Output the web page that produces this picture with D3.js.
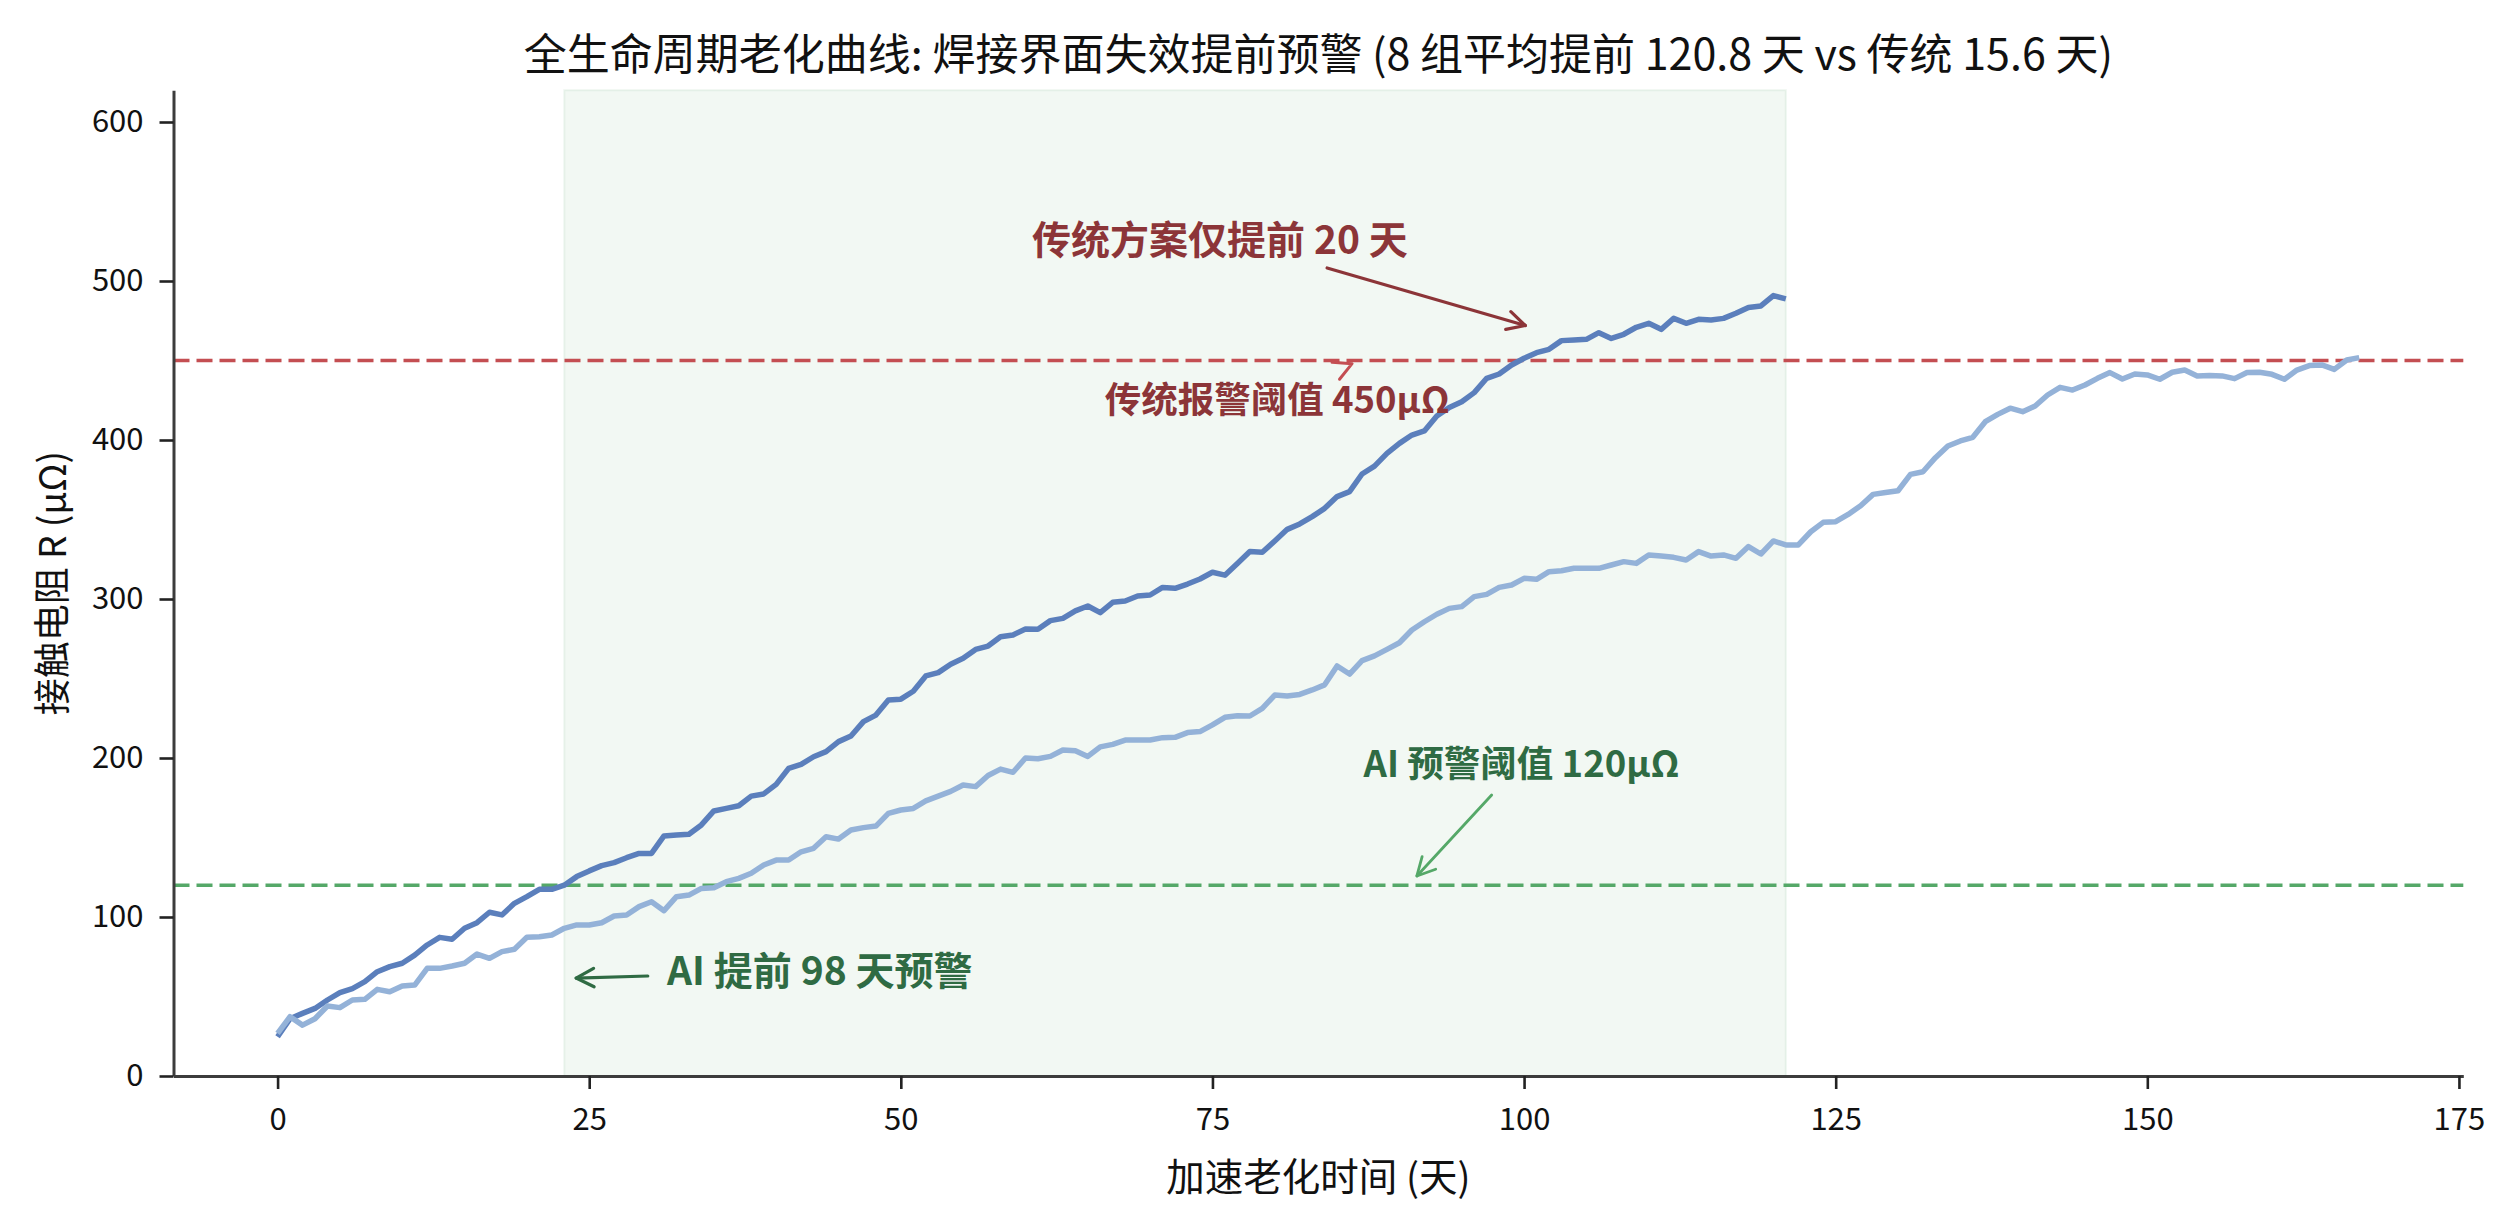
<!DOCTYPE html>
<html>
<head>
<meta charset="utf-8">
<script src="https://cdn.jsdelivr.net/npm/d3@7"></script>
<style>
  body { margin: 0; background: #fff; }
  svg { display: block; font-family: "Noto Sans CJK SC", "Noto Sans", sans-serif; }
</style>
</head>
<body>
<script>
// 数据: 两条老化曲线 (每天一个点, 从第 0 天开始)
const failingCurve = [
  24.7, 36.0, 39.4, 42.5, 47.8, 52.4, 55.0, 59.3, 65.6, 68.8,
  70.9, 76.0, 82.4, 87.2, 86.0, 92.9, 96.4, 103.0, 101.3, 108.6,
  112.8, 117.4, 117.4, 120.0, 125.4, 129.0, 132.3, 134.2, 137.3, 140.0,
  140.0, 151.0, 151.6, 152.0, 157.9, 166.7, 168.3, 170.0, 176.0, 177.4,
  183.4, 193.5, 196.0, 200.8, 204.0, 210.3, 213.8, 222.9, 227.0, 236.5,
  237.0, 242.0, 251.6, 253.7, 259.0, 262.7, 268.3, 270.4, 276.3, 277.4,
  281.1, 281.0, 286.4, 287.8, 292.5, 295.6, 291.4, 297.9, 298.7, 301.9,
  302.5, 307.3, 306.7, 309.4, 312.6, 316.8, 315.0, 322.4, 329.8, 329.4,
  336.5, 343.8, 347.2, 351.8, 357.0, 364.4, 367.5, 378.6, 383.6, 391.6,
  397.9, 403.1, 405.7, 415.1, 420.5, 424.1, 429.8, 438.8, 441.5, 447.2,
  451.4, 454.9, 457.0, 462.5, 462.9, 463.3, 467.5, 463.9, 466.5, 470.9,
  473.4, 469.6, 476.5, 473.4, 475.9, 475.5, 476.5, 479.7, 483.4, 484.3,
  490.8, 488.7
];
const slowCurve = [
  26.8, 37.3, 32.0, 36.0, 44.0, 43.0, 47.8, 48.2, 54.5, 53.0,
  56.6, 57.2, 67.7, 67.7, 69.2, 70.9, 76.7, 74.0, 78.2, 79.7,
  87.2, 87.6, 88.7, 92.9, 95.0, 95.0, 96.4, 100.6, 101.3, 106.5,
  109.6, 104.0, 112.8, 113.8, 118.0, 118.4, 122.2, 124.3, 127.5, 132.7,
  135.8, 135.8, 141.0, 143.2, 150.5, 149.0, 154.7, 156.2, 157.2, 165.2,
  167.3, 168.3, 173.0, 176.0, 179.0, 183.0, 182.0, 189.0, 193.0, 191.0,
  200.0, 199.5, 201.0, 205.0, 204.5, 201.0, 207.0, 208.6, 211.3, 211.3,
  211.3, 212.8, 213.0, 216.0, 216.6, 220.8, 225.6, 226.6, 226.4, 231.2,
  239.6, 239.0, 240.0, 242.8, 246.0, 257.9, 252.8, 261.2, 264.2, 268.3,
  272.5, 280.5, 285.7, 290.4, 294.1, 295.2, 301.5, 302.9, 307.3, 308.8,
  313.0, 312.4, 317.2, 317.8, 319.3, 319.3, 319.3, 321.4, 323.5, 322.4,
  327.7, 327.0, 326.2, 324.5, 329.8, 327.0, 327.7, 325.6, 333.0, 328.3,
  336.5, 334.0, 334.0, 342.3, 348.2, 348.6, 353.2, 358.7, 365.8, 367.0,
  368.1, 378.4, 380.0, 388.9, 396.2, 399.4, 401.7, 411.5, 416.1, 420.0,
  417.8, 421.4, 428.3, 433.1, 431.4, 434.6, 438.8, 442.4, 438.4, 441.5,
  440.9, 438.2, 442.6, 444.0, 440.3, 440.5, 440.3, 438.6, 442.4, 442.6,
  441.3, 438.2, 444.0, 446.8, 447.2, 444.4, 450.3, 451.8
];
const aiThreshold = 120;
const tradThreshold = 450;
const warnWindow = [23, 121];
const xTicks = [0, 25, 50, 75, 100, 125, 150, 175];
const yTicks = [0, 100, 200, 300, 400, 500, 600];

const W = 2516, H = 1229;
const red = "#c44e52", darkRed = "#8c3538";
const green = "#55a868", darkGreen = "#2f6b43";

const svg = d3.select("body")
  .append("svg")
  .attr("width", W)
  .attr("height", H);

const x = d3.scaleLinear().domain([-8.35, 175.35]).range([173.5, 2463.3]);
const y = d3.scaleLinear().domain([0, 620]).range([1076, 90.2]);

// 预警窗口阴影
svg.append("rect")
  .attr("x", x(warnWindow[0]))
  .attr("y", y(620))
  .attr("width", x(warnWindow[1]) - x(warnWindow[0]))
  .attr("height", y(0) - y(620))
  .attr("fill", green)
  .attr("fill-opacity", 0.08)
  .attr("stroke", green)
  .attr("stroke-opacity", 0.1)
  .attr("stroke-width", 2);

// 阈值线
[[tradThreshold, red], [aiThreshold, green]].forEach(([v, c]) => {
  svg.append("line")
    .attr("x1", x.range()[0]).attr("x2", x.range()[1])
    .attr("y1", y(v)).attr("y2", y(v))
    .attr("stroke", c)
    .attr("stroke-width", 3.4)
    .attr("stroke-dasharray", "16,7");
});

// 曲线
const line = d3.line()
  .x((d, i) => x(i))
  .y(d => y(d));

svg.append("path")
  .datum(failingCurve)
  .attr("d", line)
  .attr("fill", "none")
  .attr("stroke", "#5b7fbc")
  .attr("stroke-width", 5.5)
  .attr("stroke-linejoin", "round");

svg.append("path")
  .datum(slowCurve)
  .attr("d", line)
  .attr("fill", "none")
  .attr("stroke", "#94b2d8")
  .attr("stroke-width", 5.5)
  .attr("stroke-linejoin", "round");

// 坐标轴
const yAxis = svg.append("g")
  .attr("transform", `translate(${x.range()[0]},0)`)
  .call(d3.axisLeft(y).tickValues(yTicks).tickSize(14).tickSizeOuter(0).tickPadding(16));
const xAxis = svg.append("g")
  .attr("transform", `translate(0,${y(0)})`)
  .call(d3.axisBottom(x).tickValues(xTicks).tickSize(13).tickSizeOuter(0).tickPadding(19));

[xAxis, yAxis].forEach(g => {
  g.select(".domain").attr("stroke", "#3c3c3c").attr("stroke-width", 3);
  g.selectAll(".tick line").attr("stroke", "#222").attr("stroke-width", 2.6);
  g.selectAll(".tick text")
    .attr("fill", "#111")
    .style("font-size", "31px")
    .style("font-family", "'Noto Sans CJK SC', sans-serif");
});

// 标题和轴标签
svg.append("text")
  .attr("x", (x.range()[0] + x.range()[1]) / 2)
  .attr("y", 51)
  .attr("text-anchor", "middle")
  .attr("dominant-baseline", "central")
  .style("font-size", "43px")
  .attr("fill", "#111")
  .text("全生命周期老化曲线: 焊接界面失效提前预警 (8 组平均提前 120.8 天 vs 传统 15.6 天)");

svg.append("text")
  .attr("x", (x.range()[0] + x.range()[1]) / 2)
  .attr("y", 1174)
  .attr("text-anchor", "middle")
  .attr("dominant-baseline", "central")
  .style("font-size", "38.5px")
  .attr("fill", "#111")
  .text("加速老化时间 (天)");

svg.append("text")
  .attr("transform", `translate(50,${(y.range()[0] + y.range()[1]) / 2}) rotate(-90)`)
  .attr("text-anchor", "middle")
  .attr("dominant-baseline", "central")
  .style("font-size", "37px")
  .attr("fill", "#111")
  .text("接触电阻 R (μΩ)");

// 注释
function arrowHead(px, py, angle, color, width) {
  const len = 20, spread = 0.48;
  const back = angle + Math.PI;
  const p1 = [px + len * Math.cos(back - spread), py + len * Math.sin(back - spread)];
  const p2 = [px + len * Math.cos(back + spread), py + len * Math.sin(back + spread)];
  svg.append("path")
    .attr("d", `M${p1[0]},${p1[1]}L${px},${py}L${p2[0]},${p2[1]}`)
    .attr("fill", "none")
    .attr("stroke", color)
    .attr("stroke-width", width)
    .attr("stroke-linecap", "round")
    .attr("stroke-linejoin", "round");
}

function arrow(from, to, color, width, shaft = true) {
  const x1 = x(from[0]), y1 = y(from[1]);
  const x2 = x(to[0]), y2 = y(to[1]);
  if (shaft) {
    svg.append("line")
      .attr("x1", x1).attr("y1", y1)
      .attr("x2", x2).attr("y2", y2)
      .attr("stroke", color)
      .attr("stroke-width", width)
      .attr("stroke-linecap", "round");
  }
  arrowHead(x2, y2, Math.atan2(y2 - y1, x2 - x1), color, width);
}

function label(txt, pos, color, size) {
  svg.append("text")
    .attr("x", x(pos[0]))
    .attr("y", y(pos[1]))
    .attr("text-anchor", "middle")
    .attr("dominant-baseline", "central")
    .style("font-size", size + "px")
    .style("font-weight", "bold")
    .attr("fill", color)
    .text(txt);
}

label("传统方案仅提前 20 天", [75.6, 527.7], darkRed, 39);
arrow([84.2, 508.2], [100.1, 472], darkRed, 3.2);

label("传统报警阈值 450μΩ", [80.2, 427], darkRed, 36.5);
arrow([77.5, 418], [86.2, 448], red, 3, false);

label("AI 预警阈值 120μΩ", [99.8, 197.5], darkGreen, 36.5);
arrow([97.4, 176.7], [91.4, 125.8], green, 2.8);

label("AI 提前 98 天预警", [43.5, 68], darkGreen, 39);
arrow([29.7, 62.9], [23.95, 61.6], darkGreen, 3.2);
</script>
</body>
</html>
